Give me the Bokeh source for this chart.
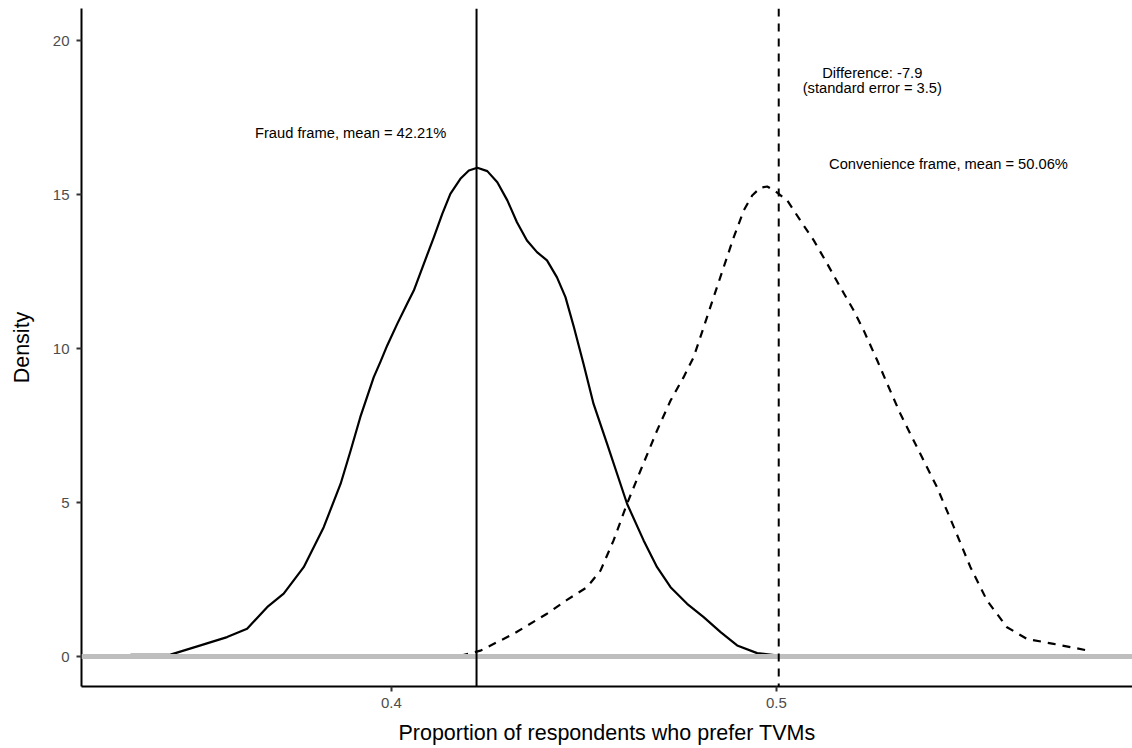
from bokeh.plotting import figure
from bokeh.models import Range1d, FixedTicker, Span, ColumnDataSource
from bokeh.core.properties import value
from bokeh.embed import file_html
from bokeh.resources import INLINE

# Density of proportion preferring TVMs, fraud frame (solid)
fraud_x = [0.3322, 0.3426, 0.3504, 0.3573, 0.3625, 0.3677, 0.3720, 0.3772, 0.3824, 0.3868,
           0.3894, 0.3919, 0.3954, 0.3971, 0.3989, 0.4015, 0.4041, 0.4058, 0.4084, 0.4110,
           0.4132, 0.4153, 0.4179, 0.4201, 0.4223, 0.4249, 0.4275, 0.4301, 0.4326, 0.4352,
           0.4378, 0.4404, 0.4430, 0.4452, 0.4474, 0.4499, 0.4525, 0.4560, 0.4612, 0.4655,
           0.4690, 0.4725, 0.4768, 0.4811, 0.4855, 0.4898, 0.4950, 0.5010]
fraud_y = [0.05, 0.06, 0.36, 0.63, 0.90, 1.60, 2.04, 2.90, 4.20, 5.61,
           6.69, 7.77, 9.07, 9.56, 10.10, 10.80, 11.46, 11.88, 12.75, 13.61,
           14.37, 15.02, 15.51, 15.78, 15.87, 15.76, 15.40, 14.81, 14.10, 13.51,
           13.13, 12.86, 12.31, 11.67, 10.69, 9.50, 8.20, 6.91, 4.96, 3.77,
           2.90, 2.25, 1.71, 1.28, 0.79, 0.36, 0.11, 0.02]

# Convenience frame (dashed)
conv_x = [0.4179, 0.4231, 0.4318, 0.4404, 0.4456, 0.4508, 0.4543, 0.4577, 0.4612, 0.4647,
          0.4690, 0.4725, 0.4759, 0.4785, 0.4811, 0.4837, 0.4863, 0.4889, 0.4915, 0.4937,
          0.4958, 0.4976, 0.4997, 0.5028, 0.5062, 0.5097, 0.5132, 0.5166, 0.5201, 0.5227,
          0.5262, 0.5288, 0.5322, 0.5365, 0.5417, 0.5461, 0.5504, 0.5547, 0.5599, 0.5651,
          0.5720, 0.5811, 0.5812]
conv_y = [0.02, 0.19, 0.74, 1.39, 1.84, 2.25, 2.79, 3.77, 4.96, 6.04,
          7.34, 8.31, 9.07, 9.72, 10.69, 11.67, 12.64, 13.61, 14.48, 14.97,
          15.22, 15.26, 15.11, 14.81, 14.16, 13.51, 12.75, 11.99, 11.23, 10.58,
          9.61, 8.85, 7.88, 6.80, 5.50, 4.20, 2.90, 1.82, 0.95, 0.57,
          0.41, 0.19, 0.0]

fraud_mean = 0.4221
conv_mean = 0.5006

label_x = [0.3894, 0.5447, 0.5249, 0.5249]
label_y = [17.0, 16.0, 18.95, 18.47]
label_text = ["Fraud frame, mean = 42.21%", "Convenience frame, mean = 50.06%",
              "Difference: -7.9", "(standard error = 3.5)"]

x_ticks = [0.4, 0.5]
y_ticks = [0, 5, 10, 15, 20]

FONT = "Liberation Sans"

p = figure(width=1132, height=748, output_backend="svg", toolbar_location=None,
           x_range=Range1d(0.31948, 0.5925), y_range=Range1d(-0.974, 21.04),
           min_border_left=81, min_border_right=0, min_border_top=8, min_border_bottom=62)
p.outline_line_color = None
p.xgrid.visible = False
p.ygrid.visible = False
p.background_fill_color = "white"

p.line(fraud_x, fraud_y, line_color="black", line_width=2.2, line_join="round")
p.line(conv_x, conv_y, line_color="black", line_width=2.2, line_dash="8 7", line_join="round")

p.add_layout(Span(location=0, dimension="width", line_color="#bebebe", line_width=5))
p.add_layout(Span(location=fraud_mean, dimension="height", line_color="black", line_width=2))
p.add_layout(Span(location=conv_mean, dimension="height", line_color="black", line_width=2,
                  line_dash="8 7"))

src = ColumnDataSource(dict(x=label_x, y=label_y, t=label_text))
p.text("x", "y", text="t", source=src, text_align="center", text_baseline="middle",
       text_font=value(FONT), text_font_size="14.7px", text_color="black")

for ax in (p.xaxis[0], p.yaxis[0]):
    ax.axis_line_color = "black"
    ax.axis_line_width = 2
    ax.major_tick_line_color = "#333333"
    ax.major_tick_line_width = 2
    ax.major_tick_out = 5
    ax.major_tick_in = 0
    ax.minor_tick_line_color = None
    ax.major_label_text_font = FONT
    ax.major_label_text_font_size = "15px"
    ax.major_label_text_color = "#4d4d4d"
    ax.axis_label_text_font = FONT
    ax.axis_label_text_font_size = "21.5px"
    ax.axis_label_text_font_style = "normal"
    ax.axis_label_text_color = "black"

p.xaxis.ticker = FixedTicker(ticks=x_ticks)
p.yaxis.ticker = FixedTicker(ticks=y_ticks)
p.xaxis.axis_label = "Proportion of respondents who prefer TVMs"
p.yaxis.axis_label = "Density"
p.xaxis.major_label_standoff = 6
p.yaxis.major_label_standoff = 7
p.xaxis.axis_label_standoff = 10
p.yaxis.axis_label_standoff = 16

open("out.html", "w").write(file_html(p, INLINE))
